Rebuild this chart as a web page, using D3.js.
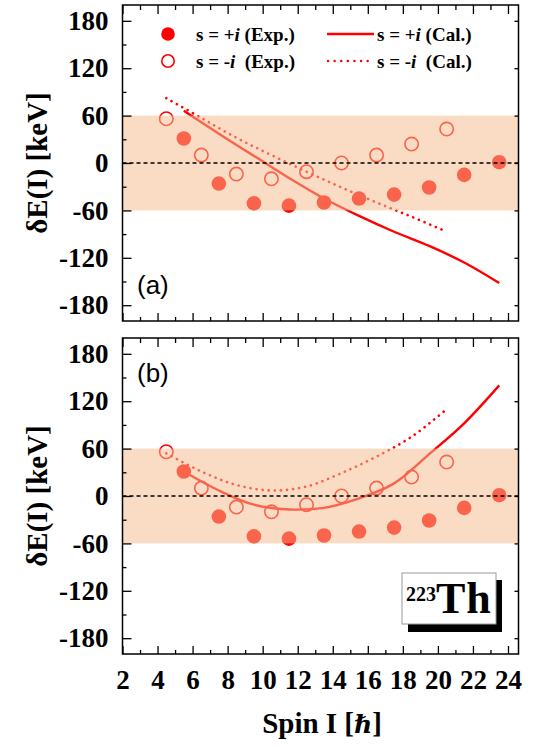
<!DOCTYPE html>
<html>
<head>
<meta charset="utf-8">
<script src="https://cdn.jsdelivr.net/npm/d3@7"></script>
<style>
  body { margin: 0; background: #fff; }
  svg { display: block; }
  .serif { font-family: "Liberation Serif", "Times New Roman", serif; font-weight: bold; }
  .axis path { display: none; }
  .axis line { stroke: #000; stroke-width: 1.3; }
</style>
</head>
<body>
<svg id="chart" width="534" height="748"></svg>
<script>
// experimental points, shared by both panels
var spinPlus = [5.5, 7.5, 9.5, 11.5, 13.5, 15.5, 17.5, 19.5, 21.5, 23.5];
var expPlus = [31, -26, -51, -54, -50, -45, -40, -31, -15, 1];
var spinMinus = [4.5, 6.5, 8.5, 10.5, 12.5, 14.5, 16.5, 18.5, 20.5];
var expMinus = [56, 10, -14, -20, -11, 0, 10, 24, 43];

// calculations, panel (a)
var calPlusA = [66, 37, 9, -19, -45, -67, -87, -105, -126, -152];
var calMinusA = [82, 57, 32, 10, -11, -31, -50, -68, -87];
// calculations, panel (b)
var calPlusB = [31, 7, -11, -17, -15, -3, 16, 53, 92, 140];
var calMinusB = [54, 31, 14, 7, 12, 29, 50, 75, 110];

var yTicks = [-180, -120, -60, 0, 60, 120, 180];
var yMinor = [-150, -90, -30, 30, 90, 150];
var xTicks = [2, 4, 6, 8, 10, 12, 14, 16, 18, 20, 22, 24];
var xMinor = [3, 5, 7, 9, 11, 13, 15, 17, 19, 21, 23];

var red = "#ff0000";
var svg = d3.select("#chart");

var x = d3.scaleLinear().domain([2, 24.6]).range([122.5, 518.5]);

function pts(xs, ys) { return xs.map(function (d, i) { return [d, ys[i]]; }); }

function fmt(d) { return String(d); }  // plain hyphen, as in the figure

function labelFont(sel) {
  sel.attr("font-family", "'Liberation Serif', 'Times New Roman', serif")
    .attr("font-weight", "bold")
    .attr("font-size", 27);
  sel.selectAll("text").attr("fill", "#000");
}

function drawPanel(top, bottom, calPlus, calMinus, tag, tagY, showX) {
  var y = d3.scaleLinear().domain([-200, 200]).range([bottom, top]);
  var g = svg.append("g");

  var line = d3.line()
    .curve(d3.curveCatmullRom)
    .x(function (d) { return x(d[0]); })
    .y(function (d) { return y(d[1]); });

  // calculated curves
  g.append("path").datum(pts(spinPlus, calPlus))
    .attr("d", line).attr("fill", "none")
    .attr("stroke", red).attr("stroke-width", 2.4);
  g.append("path").datum(pts(spinMinus, calMinus))
    .attr("d", line).attr("fill", "none")
    .attr("stroke", red).attr("stroke-width", 2.6)
    .attr("stroke-linecap", "round")
    .attr("stroke-dasharray", "0.1,6");

  // experimental points
  g.selectAll(".fp").data(pts(spinPlus, expPlus)).enter().append("circle")
    .attr("cx", function (d) { return x(d[0]); })
    .attr("cy", function (d) { return y(d[1]); })
    .attr("r", 7.3).attr("fill", red);
  g.selectAll(".op").data(pts(spinMinus, expMinus)).enter().append("circle")
    .attr("cx", function (d) { return x(d[0]); })
    .attr("cy", function (d) { return y(d[1]); })
    .attr("r", 6.7).attr("fill", "none")
    .attr("stroke", red).attr("stroke-width", 1.6);

  // shaded band on top, semi-transparent
  g.append("rect")
    .attr("x", x(2)).attr("y", y(60))
    .attr("width", x(24.6) - x(2)).attr("height", y(-60) - y(60))
    .attr("fill", "rgb(245,189,144)").attr("opacity", 0.53);

  // zero line
  g.append("line")
    .attr("x1", x(2)).attr("x2", x(24.6))
    .attr("y1", y(0)).attr("y2", y(0))
    .attr("stroke", "#000").attr("stroke-width", 1.3)
    .attr("stroke-dasharray", "4,3");

  // axes
  g.append("g").attr("class", "axis")
    .attr("transform", "translate(" + x(2) + ",0)")
    .call(d3.axisLeft(y).tickValues(yTicks).tickSize(-9).tickPadding(14).tickFormat(fmt))
    .call(labelFont);
  g.append("g").attr("class", "axis")
    .attr("transform", "translate(" + x(2) + ",0)")
    .call(d3.axisLeft(y).tickValues(yMinor).tickSize(-4).tickFormat(""));
  g.append("g").attr("class", "axis")
    .attr("transform", "translate(" + x(24.6) + ",0)")
    .call(d3.axisRight(y).tickValues(yTicks).tickSize(-4).tickFormat(""));

  g.append("g").attr("class", "axis")
    .attr("transform", "translate(0," + top + ")")
    .call(d3.axisTop(x).tickValues(xTicks).tickSize(-9).tickFormat(""));
  g.append("g").attr("class", "axis")
    .attr("transform", "translate(0," + top + ")")
    .call(d3.axisTop(x).tickValues(xMinor).tickSize(-5).tickFormat(""));

  var bx = d3.axisBottom(x).tickValues(xTicks).tickSize(-8).tickPadding(16)
    .tickFormat(showX ? fmt : "");
  g.append("g").attr("class", "axis")
    .attr("transform", "translate(0," + bottom + ")")
    .call(bx)
    .call(labelFont);
  g.append("g").attr("class", "axis")
    .attr("transform", "translate(0," + bottom + ")")
    .call(d3.axisBottom(x).tickValues(xMinor).tickSize(-4).tickFormat(""));

  // frame
  g.append("rect")
    .attr("x", x(2)).attr("y", top)
    .attr("width", x(24.6) - x(2)).attr("height", bottom - top)
    .attr("fill", "none").attr("stroke", "#000").attr("stroke-width", 1.5);

  g.append("text")
    .attr("x", 137).attr("y", tagY)
    .attr("font-family", "'Liberation Sans', Arial, sans-serif")
    .attr("font-size", 26)
    .text(tag);

  // y label
  g.append("text").attr("class", "serif")
    .attr("transform", "translate(47," + y(0) + ") rotate(-90)")
    .attr("text-anchor", "middle")
    .attr("font-size", 29)
    .text("δE(I) [keV]");

  return y;
}

var yA = drawPanel(5, 321, calPlusA, calMinusA, "(a)", 294, false);
var yB = drawPanel(338, 654, calPlusB, calMinusB, "(b)", 382, true);

// legend
var lg = svg.append("g").attr("class", "serif").attr("font-size", 19);
lg.append("circle").attr("cx", 168).attr("cy", 34).attr("r", 6.8).attr("fill", red);
lg.append("circle").attr("cx", 168).attr("cy", 61).attr("r", 6.2).attr("fill", "none")
  .attr("stroke", red).attr("stroke-width", 1.6);
lg.append("line").attr("x1", 327).attr("x2", 374).attr("y1", 34).attr("y2", 34)
  .attr("stroke", red).attr("stroke-width", 2.4);
lg.append("line").attr("x1", 328).attr("x2", 374).attr("y1", 61).attr("y2", 61)
  .attr("stroke", red).attr("stroke-width", 2.4).attr("stroke-linecap", "round")
  .attr("stroke-dasharray", "0.1,6.5");

function legendText(tx, ty, sign, tail) {
  var t = lg.append("text").attr("x", tx).attr("y", ty).attr("dy", "0.35em");
  t.append("tspan").text("s = " + sign);
  t.append("tspan").attr("font-style", "italic").text("i");
  t.append("tspan").attr("xml:space", "preserve").text(tail);
}
legendText(196, 34, "+", " (Exp.)");
legendText(196, 61, "-", "  (Exp.)");
legendText(377, 34, "+", " (Cal.)");
legendText(377, 61, "-", "  (Cal.)");

// nucleus label with shadow box
svg.append("rect").attr("x", 408).attr("y", 580).attr("width", 94).attr("height", 52).attr("fill", "#000");
svg.append("rect").attr("x", 402).attr("y", 573).attr("width", 94).attr("height", 51)
  .attr("fill", "#fff").attr("stroke", "#999").attr("stroke-width", 1);
var th = svg.append("text").attr("class", "serif").attr("x", 406).attr("y", 613);
th.append("tspan").attr("font-size", 20).attr("dy", "-12").text("223");
th.append("tspan").attr("font-size", 44).attr("dy", "12").attr("letter-spacing", 1).text("Th");

// x label
var xl = svg.append("text").attr("class", "serif")
  .attr("x", 322).attr("y", 733).attr("text-anchor", "middle").attr("font-size", 29);
xl.append("tspan").text("Spin I [");
xl.append("tspan").attr("font-style", "italic").attr("font-family", "'DejaVu Serif', serif").attr("font-size", 25).text("ℏ");
xl.append("tspan").text("]");
</script>
</body>
</html>
